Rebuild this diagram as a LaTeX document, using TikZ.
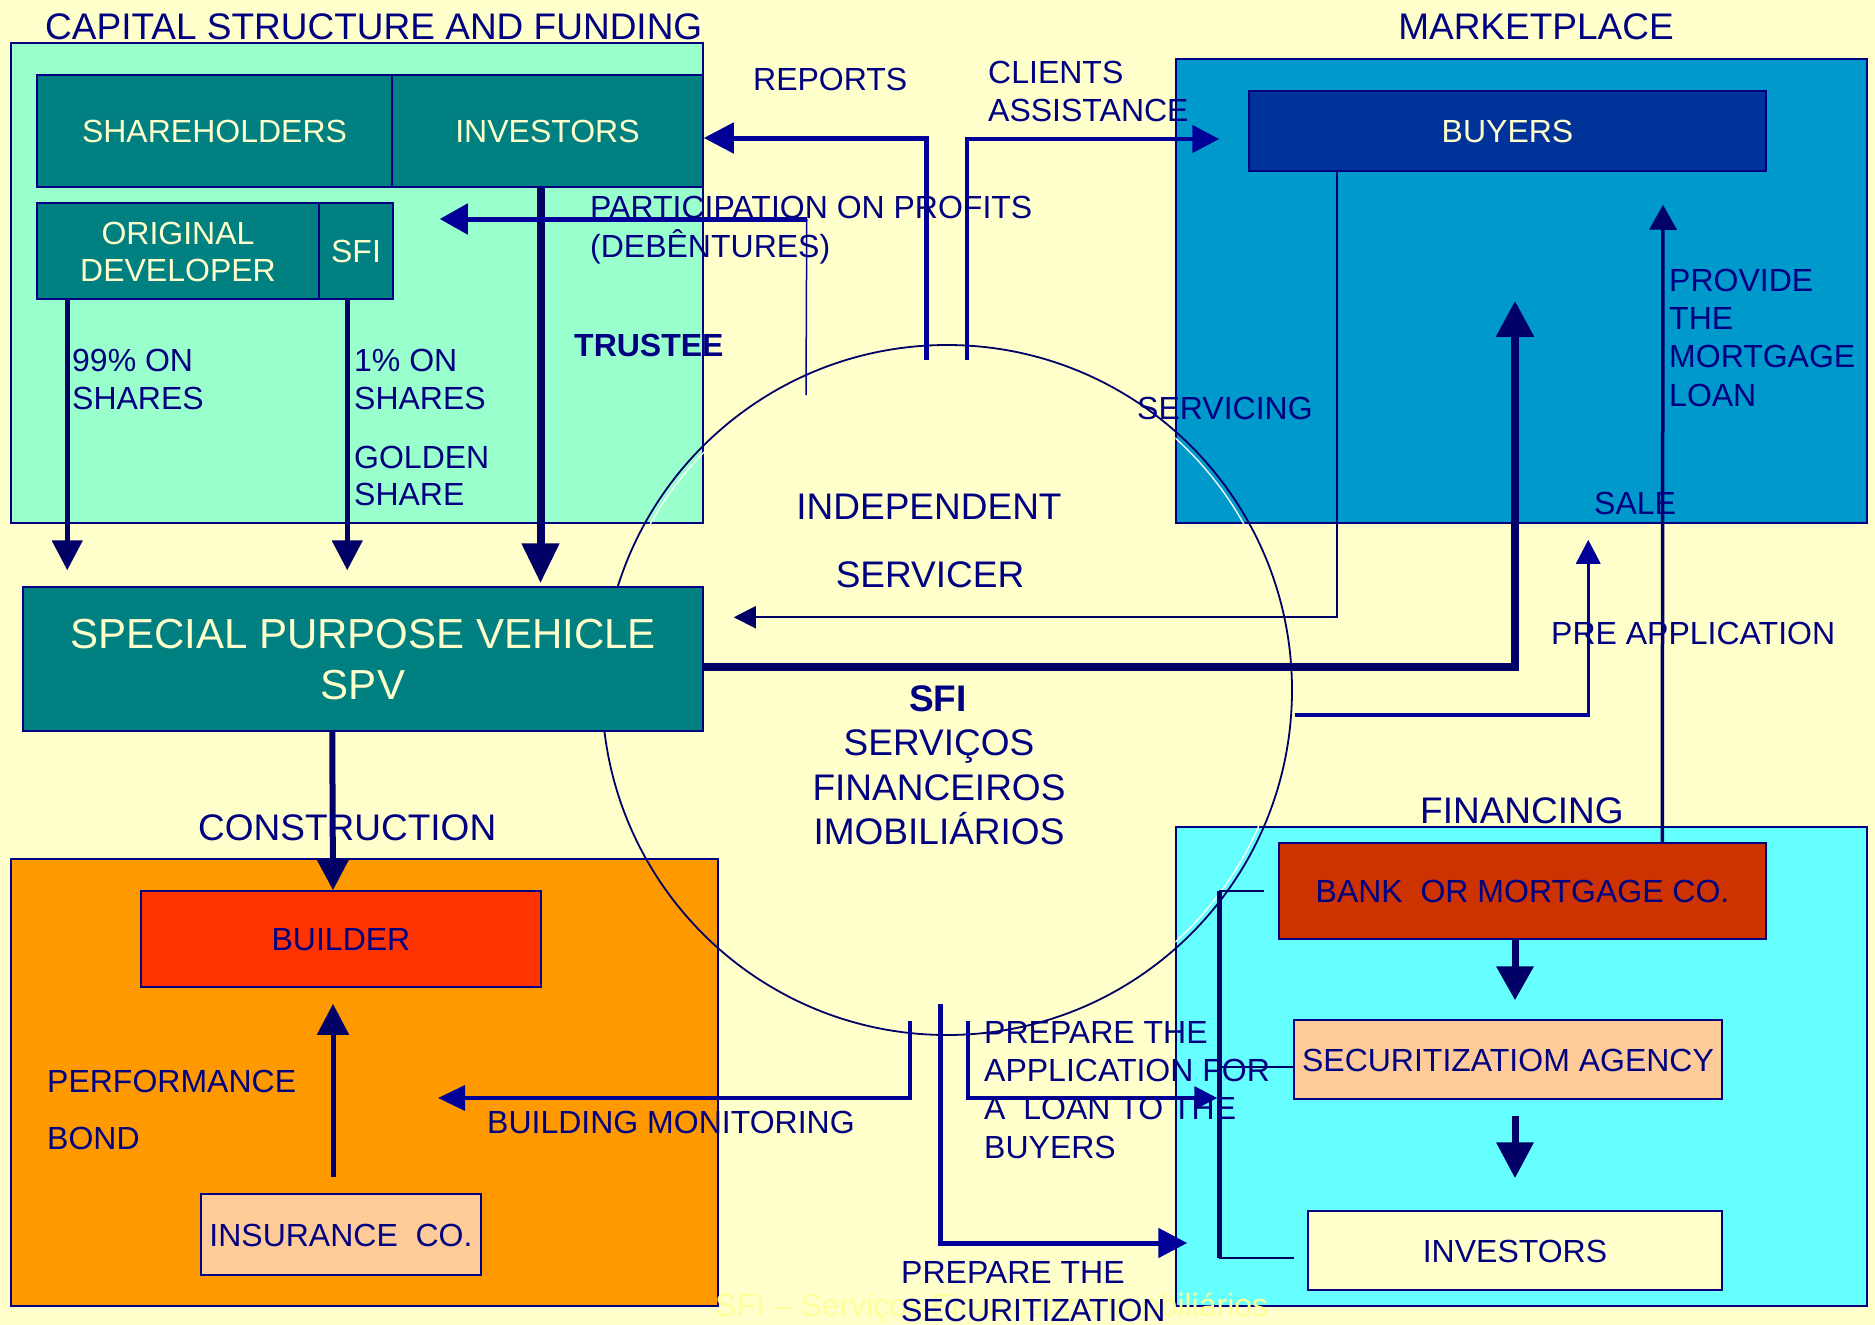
\documentclass[tikz,border=0pt]{standalone}
\usepackage{fontspec}
\setmainfont{Liberation Sans}
\usetikzlibrary{arrows.meta,calc,fit}
\definecolor{bgc}{HTML}{FFFFCC}
\definecolor{mint}{HTML}{99FFCC}
\definecolor{tealc}{HTML}{008080}
\definecolor{creamt}{HTML}{FFFFCC}
\definecolor{mktc}{HTML}{0099CC}
\definecolor{buyc}{HTML}{003399}
\definecolor{orangec}{HTML}{FF9900}
\definecolor{buildc}{HTML}{FF3300}
\definecolor{peach}{HTML}{FFCC99}
\definecolor{cyanc}{HTML}{66FFFF}
\definecolor{bankc}{HTML}{CC3300}
\definecolor{txtc}{HTML}{000080}
\definecolor{dkc}{HTML}{000066}
\definecolor{blc}{HTML}{000099}
\definecolor{wmc}{HTML}{FFFF99}
\begin{document}
\begin{tikzpicture}[x=1pt,y=-1pt,
  regbox/.style={draw=txtc,line width=1.5pt,inner sep=0pt},
  inbox/.style={draw=txtc,line width=1.5pt,inner sep=0pt,align=center,font=\fontsize{32}{37}\selectfont,text height=23pt,text depth=0pt},
  wh/.style n args={2}{minimum width=#1pt,minimum height=#2pt},
  lbl/.style={font=\fontsize{32}{38}\selectfont,text=txtc,inner sep=0pt,anchor=base west,align=left},
  tit/.style={font=\fontsize{37}{44}\selectfont,text=txtc,inner sep=0pt,anchor=base west},
  cir/.style={font=\fontsize{37}{44}\selectfont,text=txtc,inner sep=0pt,anchor=base},
  dk/.style={draw=dkc},
  bl/.style={draw=blc},
  tipA/.style={-{Triangle[length=#1pt,width=#1pt]}}
]
\path[use as bounding box,fill=bgc] (0,0) rectangle (1875,1325);

% region boxes
\node[regbox,fill=mint,fit={(11,43) (703,523)}] (capbox) {};
\node[regbox,fill=mktc,fit={(1176,59) (1867,523)}] (mktbox) {};
\node[regbox,fill=orangec,fit={(11,859) (718,1306)}] (conbox) {};
\node[regbox,fill=cyanc,fit={(1176,827) (1867,1306)}] (finbox) {};

% watermark
\node[font=\fontsize{32}{38}\selectfont,text=wmc,inner sep=0pt,anchor=base west] (wm) at (715,1316) {SFI -- Serviços Financeiros Imobiliários};

% white shadow of the circle on coloured boxes
\begin{scope}\clip (capbox.north west) rectangle (capbox.south east);
\draw[white,line width=1.3pt] (947,690) circle[radius=340];\end{scope}
\begin{scope}\clip (mktbox.north west) rectangle (mktbox.south east);
\draw[white,line width=1.3pt] (947,690) circle[radius=340];\end{scope}
\begin{scope}\clip (finbox.north west) rectangle (finbox.south east);
\draw[white,line width=1.3pt] (947,690) circle[radius=340];\end{scope}

% circle
\node[circle,draw=dkc,line width=1.8pt,minimum size=690pt,inner sep=0pt] (circ) at (947,690) {};

% inner boxes
\node[inbox,fill=tealc,text=creamt,wh={355}{112}] (sh) at (214.5,131) {SHAREHOLDERS};
\node[inbox,fill=tealc,text=creamt,wh={311}{112}] (inv) at (547.5,131) {INVESTORS};
\node[inbox,fill=tealc,text=creamt,wh={282}{96},text height=60pt] (od) at (178,251) {ORIGINAL\\DEVELOPER};
\node[inbox,fill=tealc,text=creamt,wh={74}{96}] (sfi) at (356,251) {SFI};
\node[inbox,fill=tealc,text=creamt,font=\fontsize{42}{51}\selectfont,wh={680}{144},text height=81pt] (spv) at (363,659) {SPECIAL PURPOSE VEHICLE\\SPV};
\node[inbox,fill=buyc,text=creamt,wh={517}{80}] (buyers) at (1507.5,131) {BUYERS};
\node[inbox,fill=buildc,text=txtc,wh={400}{96}] (builder) at (341,939) {BUILDER};
\node[inbox,fill=peach,text=txtc,wh={280}{81}] (ins) at (341,1234.5) {INSURANCE\ \ CO.};
\node[inbox,fill=bankc,text=txtc,wh={487}{96}] (bank) at (1522.5,891) {BANK\ \ OR MORTGAGE CO.};
\node[inbox,fill=peach,text=txtc,wh={428}{79}] (sec) at (1508,1059.5) {SECURITIZATIOM AGENCY};
\node[inbox,fill=bgc,text=txtc,wh={414}{79}] (inv2) at (1515,1250.5) {INVESTORS};

% connectors: capital structure
\coordinate (p99) at ($(od.south west)+(31,0)$);
\draw[dk,line width=5pt,tipA=30] (p99) -- ($(p99 |- spv.north)+(0,-16)$);
\coordinate (p1) at ($(sfi.south west)+(29,0)$);
\draw[dk,line width=5pt,tipA=30] (p1) -- ($(p1 |- spv.north)+(0,-16)$);
\coordinate (pinv) at ($(inv.south)+(-7,0)$);
\draw[dk,line width=8pt,-{Triangle[length=40pt,width=36pt]}] (pinv) -- ($(pinv |- spv.north)+(0,-3)$);

% reports / clients assistance
\coordinate (rep0) at ($(circ.north)+(-21,16)$);
\draw[bl,line width=5pt,tipA=30] (rep0) |- ($(inv.east)+(0,7)$);
\coordinate (cl0) at ($(circ.north)+(20,16)$);
\draw[bl,line width=4.5pt,tipA=27] (cl0) |- ($(buyers.west)+(-29,8)$);

% participation on profits
\coordinate (pa0) at ($(circ.north)+(-141,51)$);
\coordinate (pa1) at ($(sfi.east)+(413,-32)$);
\coordinate (pa2) at ($(sfi.east)+(46,-32)$);
\draw[bl,line width=1.5pt] (pa0) -- (pa1);
\draw[bl,line width=5pt,-{Triangle[length=28pt,width=30pt]}] (pa1) -- (pa2);

% servicing
\coordinate (sv0) at ($(buyers.south west)+(89,0)$);
\draw[dk,line width=2pt,-{Triangle[length=22pt,width=22pt]}] (sv0) |- ($(spv.north east)+(30,31)$);

% sale
\draw[dk,line width=8pt,-{Triangle[length=36pt,width=36pt]}] ($(spv.east)+(0,8)$) -| ($(buyers.south)+(7.5,129)$);

% pre application
\draw[bl,line width=3.5pt,-{Triangle[length=24pt,width=24pt]}] ($(circ.east)+(2,25)$) -| ($(mktbox.south west)+(413,16)$);

% provide the mortgage loan
\draw[dk,line width=3.5pt,-{Triangle[length=25pt,width=27pt]}] ($(bank.north west)+(384,0)$) -- ($(buyers.south)+(155.5,33)$);

% construction
\draw[dk,line width=6pt,tipA=31] ($(spv.south west)+(310,0)$) -- ($(builder.north)+(-8,0)$);
\draw[dk,line width=5pt,tipA=31] ($(ins.north)+(-8,-16)$) -- ($(builder.south)+(-8,16)$);

% building monitoring
\coordinate (bm0) at ($(circ.south)+(-37,-15)$);
\coordinate (bmend) at (438,1098);
\draw[bl,line width=3.5pt,-{Triangle[length=27pt,width=25pt]}] (bm0) |- (bmend);

% prepare the securitization
\coordinate (ps0) at ($(circ.south)+(-7,-32)$);
\draw[bl,line width=5pt,tipA=29] (ps0) |- ($(finbox.west)+(12,176.5)$);

% prepare the application
\coordinate (pp0) at ($(circ.south)+(21,-15)$);
\draw[bl,line width=3.5pt,-{Triangle[length=23pt,width=23pt]}] (pp0) |- ($(sec.west)+(-76,38.5)$);

% financing bracket
\coordinate (fbt) at ($(bank.west)+(-59,0)$);
\coordinate (fbb) at ($(fbt)+(0,367)$);
\draw[dk,line width=5pt] (fbt) -- (fbb);
\draw[dk,line width=1.8pt] (fbt) -- ($(bank.west)+(-14,0)$);
\draw[dk,line width=1.8pt] ($(fbt)+(0,176)$) -- ($(sec.west)+(0,7.5)$);
\draw[dk,line width=1.8pt] (fbb) -- ($(inv2.west)+(-13,7.5)$);

% financing internal arrows
\draw[dk,line width=7pt,-{Triangle[length=34pt,width=36pt]}] ($(bank.south)+(-7.5,0)$) -- ($(sec.north)+(7,-19)$);
\draw[dk,line width=7pt,-{Triangle[length=36pt,width=36pt]}] ($(sec.south)+(7,16)$) -- ($(inv2.north)+(0,-32)$);

% titles
\node[tit] (tcap) at (45,39) {CAPITAL STRUCTURE AND FUNDING};
\node[tit,anchor=base] (tmkt) at (1536,39) {MARKETPLACE};
\node[tit] (tcon) at (198,840) {CONSTRUCTION};
\node[tit] (tfin) at (1420,823) {FINANCING};

% labels (multi-line: anchored at the baseline of the last line)
\node[lbl] (lrep) at (753,90) {REPORTS};
\node[lbl] (lcli) at (988,121) {CLIENTS\\ASSISTANCE};
\node[lbl,font=\fontsize{32}{39}\selectfont] (lpar) at (590,257) {PARTICIPATION ON PROFITS\\(DEBÊNTURES)};
\node[lbl,font=\fontsize{32}{38}\selectfont\bfseries] (ltru) at (574,356) {TRUSTEE};
\node[lbl] (l99) at (72,409) {99\% ON\\SHARES};
\node[lbl] (l1) at (354,409) {1\% ON\\SHARES};
\node[lbl,font=\fontsize{32}{37}\selectfont] (lgold) at (354,505) {GOLDEN\\SHARE};
\node[lbl] (lserv) at (1137,419) {SERVICING};
\node[lbl,font=\fontsize{32}{38.3}\selectfont] (lprov) at (1669,406) {PROVIDE\\THE\\MORTGAGE\\LOAN};
\node[lbl] (lsale) at (1594,514) {SALE};
\node[lbl] (lpre) at (1551,644) {PRE APPLICATION};
\node[lbl] (lperf) at (47,1092) {PERFORMANCE};
\node[lbl] (lbond) at (47,1149) {BOND};
\node[lbl] (lbm) at (487,1133) {BUILDING MONITORING};
\node[lbl,font=\fontsize{32}{38.3}\selectfont] (lapp) at (984,1158) {PREPARE THE\\APPLICATION FOR\\A\ \ LOAN TO THE\\BUYERS};
\node[lbl] (lsec) at (901,1321) {PREPARE THE\\SECURITIZATION};

% circle texts
\node[cir] (cind) at (929,519) {INDEPENDENT};
\node[cir] (cser) at (930,587) {SERVICER};
\node[cir,font=\fontsize{37}{44}\selectfont\bfseries] (csfi) at (938,711) {SFI};
\node[cir] (cs1) at (939,755) {SERVIÇOS};
\node[cir] (cs2) at (939,800) {FINANCEIROS};
\node[cir] (cs3) at (939,844) {IMOBILIÁRIOS};
\end{tikzpicture}
\end{document}
